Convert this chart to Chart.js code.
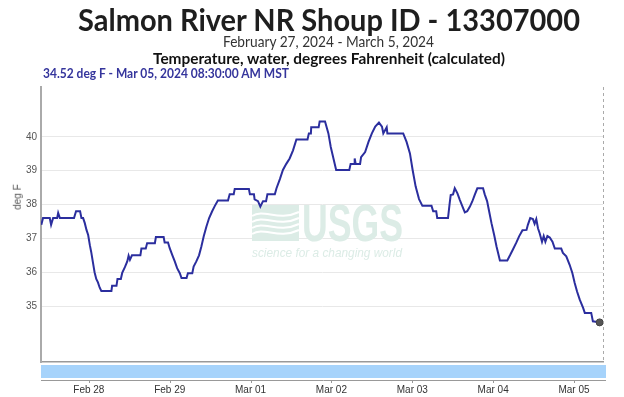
<!DOCTYPE html>
<html lang="en">
<head>
    <meta charset="UTF-8">
    <title>Salmon River NR Shoup ID - 13307000</title>
    <script src="https://cdn.jsdelivr.net/npm/chart.js"></script>
    <style>
        html, body { margin: 0; padding: 0; background: #fff; }
        #wrap { position: relative; width: 624px; height: 397px; overflow: hidden; }
        #wrap canvas { position: absolute; left: 0; top: 0; }
        .txt { position: absolute; white-space: nowrap; line-height: 1; transform-origin: left top; font-family: Lato, "Noto Sans", sans-serif; }
        #titulo { left: 78px; top: 4px; font-size: 31px; font-weight: bold; color: #1e1e1e; }
        #periodo { left: 223px; top: 34px; font-size: 15px; color: #333; }
        #parametro { left: 153px; top: 51px; font-size: 15px; font-weight: bold; color: #111; }
        #ultimo { left: 43px; top: 67px; font-size: 13px; font-weight: bold; color: #35359c; }
        #unidade { left: 18px; top: 197px; font-size: 10px; color: #555; font-family: "Liberation Sans", Arial, sans-serif; transform-origin: center center; }
    </style>
</head>
<body>
<div id="wrap">
    <canvas id="grafico" width="624" height="397"></canvas>
    <div class="txt" id="titulo">Salmon River NR Shoup ID - 13307000</div>
    <div class="txt" id="periodo">February 27, 2024 - March 5, 2024</div>
    <div class="txt" id="parametro">Temperature, water, degrees Fahrenheit (calculated)</div>
    <div class="txt" id="ultimo">34.52 deg F - Mar 05, 2024 08:30:00 AM MST</div>
    <div class="txt" id="unidade">deg F</div>
</div>
<script>
    // hours since Feb 27 2024 00:00 MST
    const horas = [
        9.9, 10.4, 12.4, 12.8, 13.4, 14.6, 14.9, 15.4, 19.6, 20.2,
        21.4, 21.8, 22.3, 22.8, 23.3, 23.8, 24.3, 24.7, 25.2, 25.7,
        26.2, 26.7, 27.2, 27.7, 30.7, 30.9, 32.2, 32.5, 33.5, 33.9,
        34.7, 35.4, 35.8, 36.2, 36.8, 39.3, 39.6, 40.9, 41.3, 43.6,
        43.9, 46.2, 46.5, 47.5, 48.0, 48.8, 49.5, 50.2, 51.0, 51.5,
        53.0, 53.4, 54.7, 55.1, 55.9, 56.7, 57.4, 58.1, 58.9, 59.7,
        60.6, 61.4, 62.3, 65.3, 65.8, 67.0, 67.3, 71.5, 71.8, 73.0,
        73.2, 74.2, 74.9, 75.7, 76.6, 77.0, 79.2, 79.7, 80.7, 81.6,
        82.6, 83.6, 84.6, 85.6, 88.9, 89.3, 89.9, 90.0, 92.2, 92.5,
        94.1, 95.1, 95.8, 96.6, 97.4, 101.3, 101.7, 102.7, 102.9, 103.2,
        104.5, 104.8, 106.0, 107.0, 108.0, 109.0, 110.1, 111.0, 111.4, 112.4,
        112.6, 117.3, 118.3, 119.3, 120.1, 121.0, 122.0, 123.0, 125.7, 126.2,
        127.1, 127.4, 130.6, 131.1, 131.4, 132.1, 132.6, 133.4, 134.1, 134.9,
        135.6, 136.3, 137.1, 137.8, 138.5, 139.3, 141.0, 141.5, 142.2, 142.8,
        143.5, 144.3, 145.0, 145.7, 146.0, 148.2, 149.0, 149.9, 150.9, 151.7,
        152.7, 153.9, 154.3, 155.0, 155.8, 156.3, 156.8, 157.3, 157.8, 158.5,
        159.0, 159.5, 160.1, 160.8, 161.6, 162.3, 164.2, 164.7, 165.7, 166.7,
        167.5, 168.2, 168.9, 169.7, 170.7, 171.2, 173.1, 173.6, 175.6
    ];
    const temperatura = [
        37.4, 37.6, 37.6, 37.4, 37.6, 37.6, 37.75, 37.6, 37.6, 37.8,
        37.8, 37.6, 37.6, 37.45, 37.25, 37.1, 36.8, 36.6, 36.3, 36.0,
        35.8, 35.7, 35.55, 35.45, 35.45, 35.6, 35.6, 35.8, 35.8, 35.98,
        36.15, 36.32, 36.49, 36.37, 36.5, 36.5, 36.7, 36.7, 36.86, 36.86,
        37.04, 37.04, 36.88, 36.88, 36.71, 36.5, 36.32, 36.12, 35.97, 35.83,
        35.83, 35.97, 35.97, 36.17, 36.32, 36.5, 36.76, 37.06, 37.35, 37.6,
        37.8, 37.96, 38.12, 38.12, 38.3, 38.3, 38.46, 38.46, 38.3, 38.3,
        38.15, 38.1, 37.94, 38.1, 38.1, 38.3, 38.3, 38.48, 38.75, 39.02,
        39.2, 39.36, 39.6, 39.92, 39.92, 40.1, 40.1, 40.28, 40.28, 40.45,
        40.45, 40.1, 39.7, 39.36, 39.02, 39.02, 39.2, 39.2, 39.36, 39.2,
        39.2, 39.4, 39.55, 39.85, 40.1, 40.3, 40.42, 40.3, 40.1, 40.28,
        40.1, 40.1, 39.85, 39.51, 39.02, 38.53, 38.16, 37.96, 37.96, 37.8,
        37.8, 37.6, 37.6, 38.04, 38.28, 38.3, 38.48, 38.33, 38.14, 37.94,
        37.77, 37.8, 37.94, 38.09, 38.28, 38.48, 38.48, 38.3, 38.1, 37.8,
        37.45, 37.1, 36.76, 36.47, 36.35, 36.35, 36.5, 36.68, 36.88, 37.06,
        37.24, 37.25, 37.4, 37.6, 37.57, 37.43, 37.57, 37.3, 37.15, 36.9,
        37.07, 36.9, 37.07, 37.03, 36.9, 36.7, 36.7, 36.57, 36.47, 36.22,
        35.98, 35.68, 35.43, 35.19, 34.95, 34.8, 34.8, 34.55, 34.52
    ];
    const diasHoras = [24, 48, 72, 96, 120, 144, 168];
    const diasRotulos = ['Feb 28', 'Feb 29', 'Mar 01', 'Mar 02', 'Mar 03', 'Mar 04', 'Mar 05'];
    const tempTicks = [35, 36, 37, 38, 39, 40];

    // fit header texts to the widths seen in the original
    function ajustar(id, largura) {
        const el = document.getElementById(id);
        const w = el.getBoundingClientRect().width;
        el.style.transform = 'scaleX(' + (largura / w) + ')';
    }
    ajustar('titulo', 502);
    ajustar('periodo', 211);
    ajustar('parametro', 352);
    ajustar('ultimo', 246);
    (function () {
        const el = document.getElementById('unidade');
        const r = el.getBoundingClientRect();
        el.style.left = (18 - r.width / 2) + 'px';
        el.style.top = (197 - r.height / 2) + 'px';
        el.style.transform = 'rotate(-90deg)';
    })();

    const marcaDagua = {
        id: 'marcaDagua',
        beforeDatasetsDraw(chart) {
            const ctx = chart.ctx;
            ctx.save();
            ctx.fillStyle = '#dcece6';
            ctx.fillRect(252, 205, 47, 36);
            ctx.strokeStyle = '#fff';
            ctx.lineWidth = 2;
            for (let i = 0; i < 4; i++) {
                const y = 216 + i * 6;
                ctx.beginPath();
                ctx.moveTo(252, y);
                ctx.bezierCurveTo(264, y - 8, 278, y + 6, 299, y - 4);
                ctx.stroke();
            }
            ctx.fillStyle = '#dcece6';
            ctx.font = 'bold 52px "Liberation Sans", Arial, sans-serif';
            ctx.textBaseline = 'alphabetic';
            let w = ctx.measureText('USGS').width;
            ctx.save();
            ctx.translate(302, 241);
            ctx.scale(101 / w, 1);
            ctx.fillText('USGS', 0, 0);
            ctx.restore();
            ctx.font = 'italic 12px "Liberation Sans", Arial, sans-serif';
            w = ctx.measureText('science for a changing world').width;
            ctx.save();
            ctx.translate(252, 257);
            ctx.scale(150 / w, 1);
            ctx.fillText('science for a changing world', 0, 0);
            ctx.restore();
            ctx.restore();
        }
    };

    const navegador = {
        id: 'navegador',
        afterDraw(chart) {
            const ctx = chart.ctx;
            const area = chart.chartArea;
            const x = chart.scales.x;
            ctx.save();
            // dashed line at the right end
            ctx.strokeStyle = '#aaa';
            ctx.lineWidth = 1;
            ctx.setLineDash([3, 3]);
            ctx.beginPath();
            ctx.moveTo(area.right + 0.5, area.top);
            ctx.lineTo(area.right + 0.5, area.bottom);
            ctx.stroke();
            ctx.setLineDash([]);
            // navigator band
            ctx.fillStyle = '#a6d3fb';
            ctx.fillRect(area.left, area.bottom + 3, area.right + 3 - area.left, 13);
            ctx.strokeStyle = '#999';
            ctx.beginPath();
            ctx.moveTo(area.left, area.bottom + 18.5);
            ctx.lineTo(area.right + 3, area.bottom + 18.5);
            diasHoras.forEach(h => {
                const px = Math.round(x.getPixelForValue(h)) + 0.5;
                ctx.moveTo(px, area.bottom + 18);
                ctx.lineTo(px, area.bottom + 21);
            });
            ctx.stroke();
            ctx.restore();
        }
    };

    const ctx = document.getElementById('grafico').getContext('2d');
    new Chart(ctx, {
        type: 'line',
        data: {
            datasets: [{
                label: 'Temperature',
                data: horas.map((h, i) => ({ x: h, y: temperatura[i] })),
                borderColor: '#2b2e9e',
                borderWidth: 2,
                tension: 0,
                pointRadius: c => c.dataIndex === horas.length - 1 ? 3.5 : 0,
                pointBackgroundColor: '#555',
                pointBorderColor: '#444',
                pointBorderWidth: 1
            }]
        },
        options: {
            responsive: false,
            animation: false,
            layout: { padding: { top: 87, right: 21, bottom: 0, left: 0 } },
            plugins: { legend: { display: false }, tooltip: { enabled: false } },
            scales: {
                x: {
                    type: 'linear',
                    min: 9.8,
                    max: 176.6,
                    afterFit: s => { s.height = 35; },
                    afterBuildTicks: s => { s.ticks = diasHoras.map(v => ({ value: v })); },
                    grid: { display: false, drawTicks: false },
                    border: { display: true, color: '#999', width: 1.5 },
                    ticks: {
                        padding: 22,
                        color: '#333',
                        font: { family: '"Liberation Sans", Arial, sans-serif', size: 10 },
                        maxRotation: 0,
                        callback: v => diasRotulos[diasHoras.indexOf(v)]
                    }
                },
                y: {
                    min: 33.35,
                    max: 41.47,
                    afterFit: s => { s.width = 41; },
                    afterBuildTicks: s => { s.ticks = tempTicks.map(v => ({ value: v })); },
                    grid: { color: '#e8e8e8', drawTicks: false },
                    border: { display: true, color: '#aaa', width: 2 },
                    ticks: {
                        padding: 4,
                        color: '#555',
                        font: { family: '"Liberation Sans", Arial, sans-serif', size: 10 }
                    }
                }
            }
        },
        plugins: [marcaDagua, navegador]
    });
</script>
</body>
</html>
